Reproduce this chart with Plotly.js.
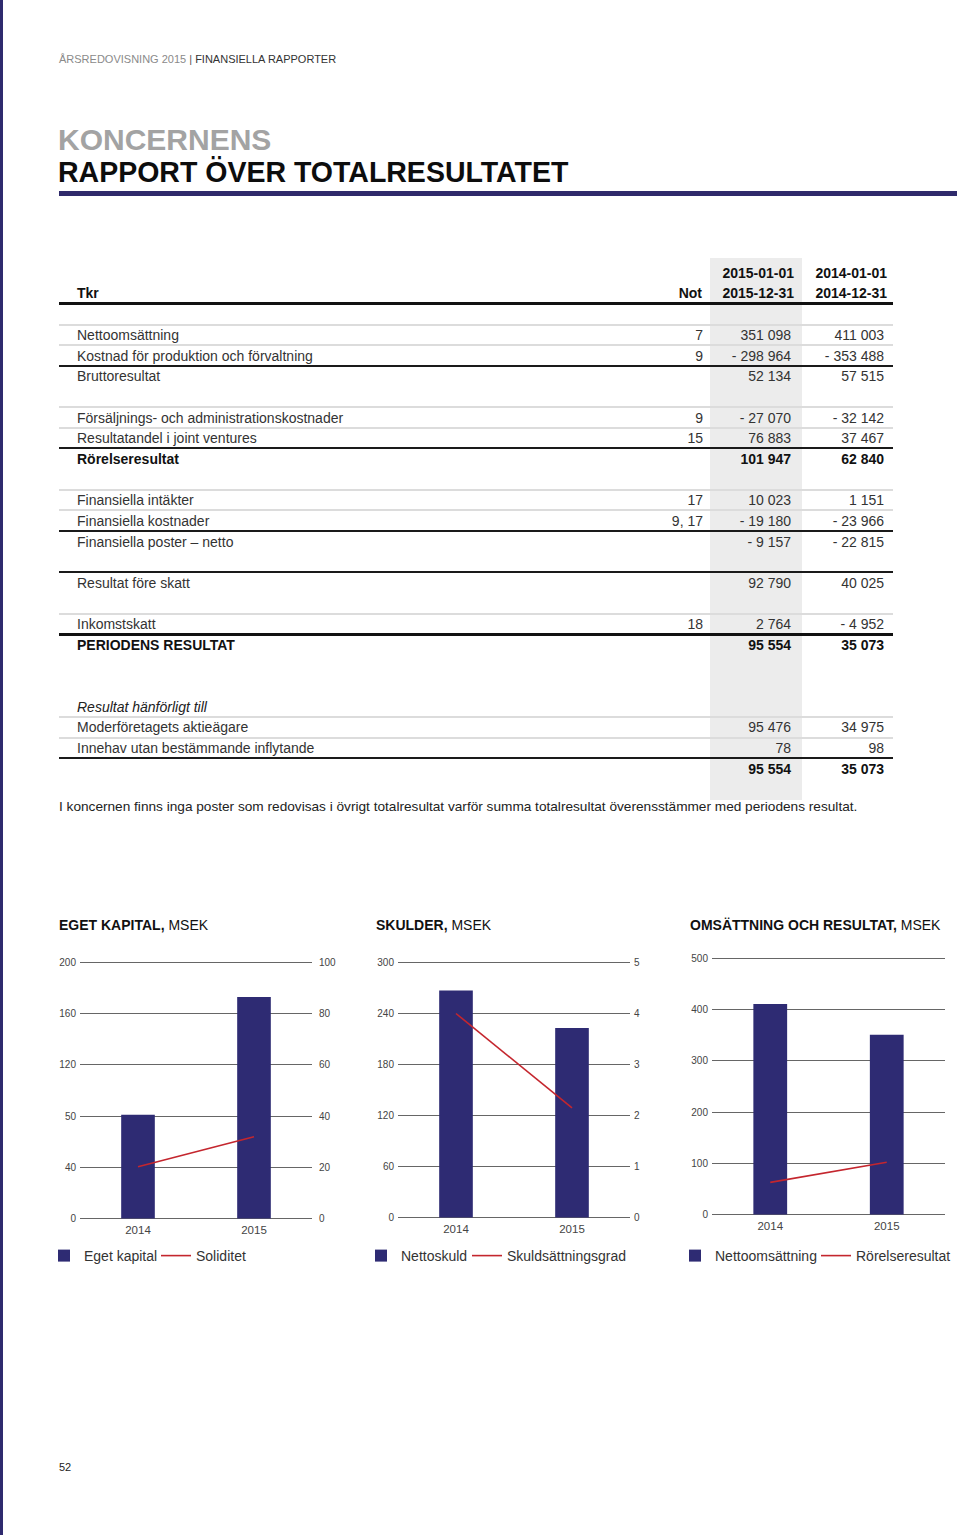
<!DOCTYPE html>
<html>
<head>
<meta charset="utf-8">
<script src="https://cdn.plot.ly/plotly-3.0.1.min.js"></script>
<style>
  html, body { margin:0; padding:0; background:#fff; }
  body { width:960px; height:1535px; position:relative; overflow:hidden;
         font-family:"Liberation Sans", Arial, Helvetica, sans-serif; color:#333; }
  .abs { position:absolute; white-space:nowrap; }
  .t { position:absolute; white-space:nowrap; line-height:20px; height:20px; font-size:14px; }
  .r { text-align:right; }
  .b { font-weight:bold; color:#111; }
  .hl { position:absolute; left:59px; width:834px; }
  .chart { position:absolute; }
</style>
</head>
<body>
<div class="abs" style="left:0;top:0;width:3px;height:1535px;background:#2e2a6e;"></div>
<div class="abs" style="left:59px;top:52px;font-size:11px;line-height:14px;">
  <span style="color:#8a8a8a">ÅRSREDOVISNING 2015</span> <span style="color:#555">|</span> <span style="color:#333">FINANSIELLA RAPPORTER</span>
</div>
<div class="abs" style="left:58px;top:122px;font-size:30px;line-height:36px;font-weight:bold;color:#a3a3a3;">KONCERNENS</div>
<div class="abs" style="left:58px;top:154px;font-size:30px;line-height:36px;font-weight:bold;color:#0d0d0d;transform:scaleX(0.95);transform-origin:0 50%;">RAPPORT ÖVER TOTALRESULTATET</div>
<div class="abs" style="left:59px;top:191px;width:898px;height:5px;background:#2f2a6b;"></div>

<div id="table"></div>

<div id="c1" class="chart"></div>
<div id="c2" class="chart"></div>
<div id="c3" class="chart"></div>

<div class="abs" style="left:59px;top:1460px;font-size:11px;line-height:14px;color:#222;">52</div>

<script>
// ---------------- DATA ----------------
const colHeadTop = ['2015-01-01', '2014-01-01'];
const colHeadBottom = ['2015-12-31', '2014-12-31'];
const rowLabels = [
  'Nettoomsättning',
  'Kostnad för produktion och förvaltning',
  'Bruttoresultat',
  'Försäljnings- och administrationskostnader',
  'Resultatandel i joint ventures',
  'Rörelseresultat',
  'Finansiella intäkter',
  'Finansiella kostnader',
  'Finansiella poster – netto',
  'Resultat före skatt',
  'Inkomstskatt',
  'PERIODENS RESULTAT',
  'Resultat hänförligt till',
  'Moderföretagets aktieägare',
  'Innehav utan bestämmande inflytande',
  ''
];
const rowNotes = ['7', '9', '', '9', '15', '', '17', '9, 17', '', '', '18', '', '', '', '', ''];
const values2015 = ['351 098', '- 298 964', '52 134', '- 27 070', '76 883', '101 947', '10 023', '- 19 180', '- 9 157', '92 790', '2 764', '95 554', '', '95 476', '78', '95 554'];
const values2014 = ['411 003', '- 353 488', '57 515', '- 32 142', '37 467', '62 840', '1 151', '- 23 966', '- 22 815', '40 025', '- 4 952', '35 073', '', '34 975', '98', '35 073'];
const footnote = 'I koncernen finns inga poster som redovisas i övrigt totalresultat varför summa totalresultat överensstämmer med periodens resultat.';

const years = ['2014', '2015'];
const egetKapital = [81, 173];
const soliditet = [20.2, 31.9];
const egetTicks = [0, 40, 80, 120, 160, 200];
const egetTickText = ['0', '40', '50', '120', '160', '200'];
const soliditetTicks = [0, 20, 40, 60, 80, 100];
const nettoskuld = [267, 223];
const skuldsattningsgrad = [4.0, 2.15];
const skuldTicks = [0, 60, 120, 180, 240, 300];
const gradTicks = [0, 1, 2, 3, 4, 5];
const nettoomsattning = [411.0, 351.1];
const rorelseresultat = [62.8, 101.9];
const omsTicks = [0, 100, 200, 300, 400, 500];

// ---------------- TABLE (layout) ----------------
const rowSlot = [0, 1, 2, 4, 5, 6, 8, 9, 10, 12, 14, 15, 18, 19, 20, 21];
const rowLine = ['g', 'g', 'k', 'g', 'g', 'k', 'g', 'g', 'k', 'k', 'g', 'K', '', 'g', 'g', 'k'];
const rowStyle = ['', '', '', '', '', 'b', '', '', '', '', '', 'b', 'i', '', '', 'b'];
const tbl = document.getElementById('table');
function add(html) { tbl.insertAdjacentHTML('beforeend', html); }
const y0 = 335, pitch = 20.65;
add('<div class="abs" style="left:710px;top:258px;width:92px;height:542px;background:#ececec;"></div>');
add(`<div class="t b r" style="left:690px;width:104px;top:${273 - 10}px">${colHeadTop[0]}</div>`);
add(`<div class="t b r" style="left:785px;width:102px;top:${273 - 10}px">${colHeadTop[1]}</div>`);
add(`<div class="t b r" style="left:690px;width:104px;top:${293 - 10}px">${colHeadBottom[0]}</div>`);
add(`<div class="t b r" style="left:785px;width:102px;top:${293 - 10}px">${colHeadBottom[1]}</div>`);
add(`<div class="t b" style="left:77px;top:${293 - 10}px">Tkr</div>`);
add(`<div class="t b r" style="left:640px;width:62px;top:${293 - 10}px">Not</div>`);
add('<div class="hl" style="top:302px;height:3px;background:#111;"></div>');
rowLabels.forEach((lab, i) => {
  const cy = y0 + rowSlot[i] * pitch;
  const ly = cy - 10.5;
  if (rowLine[i] === 'g') add(`<div class="hl" style="top:${ly - 1}px;height:2px;background:#dcdcdc;"></div>`);
  if (rowLine[i] === 'k') add(`<div class="hl" style="top:${ly - 1}px;height:2px;background:#1a1a1a;"></div>`);
  if (rowLine[i] === 'K') add(`<div class="hl" style="top:${ly - 1.5}px;height:3px;background:#111;"></div>`);
  const cls = rowStyle[i] === 'b' ? 't b' : 't';
  const st = rowStyle[i] === 'i' ? 'font-style:italic;color:#222;' : '';
  const top = cy - 10;
  if (lab) add(`<div class="${cls}" style="left:77px;top:${top}px;${st}">${lab}</div>`);
  if (rowNotes[i]) add(`<div class="t r" style="left:640px;width:63px;top:${top}px">${rowNotes[i]}</div>`);
  if (values2015[i]) add(`<div class="${cls} r" style="left:680px;width:111px;top:${top}px">${values2015[i]}</div>`);
  if (values2014[i]) add(`<div class="${cls} r" style="left:775px;width:109px;top:${top}px">${values2014[i]}</div>`);
});
add(`<div class="t" style="left:59px;top:${807 - 10}px;font-size:13.65px;color:#222;">${footnote}</div>`);

// ---------------- CHARTS ----------------
const NAVY = '#2e2b73', RED = '#c4262e', GRID = '#666666';
const FONT = '"Liberation Sans", Arial, Helvetica, sans-serif';
const DIVTOP = 905, DIVW = 330, DIVH = 375, EDGE = 1.5;

function chart(id, o) {
  // frame given in page pixels; plot area is widened by EDGE px so the end gridlines are drawn
  const el = document.getElementById(id);
  el.style.left = o.divLeft + 'px';
  el.style.top = DIVTOP + 'px';
  const W = DIVW, H = DIVH;
  const l = o.plotL - o.divLeft, pw = o.plotR - o.plotL;
  const t = o.plotT - EDGE - DIVTOP, ph = o.plotB - o.plotT + 2 * EDGE;
  const span = o.range[1] - o.range[0];
  const pad = span * EDGE / (o.plotB - o.plotT);
  const traces = [
    { type: 'bar', x: years, y: o.bars, name: o.barName, marker: { color: NAVY }, width: 0.29,
      hoverinfo: 'skip', legend: 'legend' },
    { type: 'scatter', mode: 'lines', x: years, y: o.line, name: o.lineName, yaxis: o.y2 ? 'y2' : 'y',
      line: { color: RED, width: 1.6 }, hoverinfo: 'skip', legend: 'legend2' }
  ];
  const legBase = { orientation: 'h', xref: 'container', yref: 'container',
    y: 1 - (1256 - DIVTOP) / H, xanchor: 'left', yanchor: 'middle',
    font: { family: FONT, size: 14, color: '#333' }, bgcolor: 'rgba(0,0,0,0)' };
  const layout = {
    width: W, height: H,
    margin: { l: l, r: W - l - pw, t: t, b: H - t - ph, pad: 0, autoexpand: false },
    paper_bgcolor: 'rgba(0,0,0,0)', plot_bgcolor: 'rgba(0,0,0,0)',
    font: { family: FONT, size: 10, color: '#444' },
    title: { text: o.title, font: { family: FONT, size: 14, color: '#111' },
      xref: 'container', x: (o.titleLeft - o.divLeft) / W, xanchor: 'left',
      yref: 'container', y: 1 - (925 - DIVTOP) / H, yanchor: 'middle' },
    xaxis: { type: 'category', showgrid: false, zeroline: false, showline: false, ticks: '', automargin: false,
      tickfont: { size: 11.5, color: '#444' }, range: [-0.5, 1.5], fixedrange: true, ticklabelstandoff: 1 },
    yaxis: { range: [o.range[0] - pad, o.range[1] + pad], tickvals: o.tickvals, ticktext: o.ticktext, showgrid: true,
      gridcolor: GRID, gridwidth: 1, zeroline: false, showline: false, ticks: '', fixedrange: true, automargin: false,
      tickfont: { size: 10, color: '#444' }, ticklabelstandoff: 3 },
    showlegend: true,
    legend: Object.assign({}, legBase, { x: (o.leg1 - o.divLeft) / W }),
    legend2: Object.assign({}, legBase, { x: (o.leg2 - o.divLeft) / W })
  };
  if (o.y2) {
    const pad2 = (o.y2range[1] - o.y2range[0]) * EDGE / (o.plotB - o.plotT);
    layout.yaxis2 = { overlaying: 'y', side: 'right', range: [o.y2range[0] - pad2, o.y2range[1] + pad2],
      tickvals: o.y2ticks, showgrid: false, automargin: false,
      zeroline: false, showline: false, ticks: '', fixedrange: true, tickfont: { size: 10, color: '#444' },
      ticklabelstandoff: o.y2standoff };
  }
  Plotly.newPlot(id, traces, layout, { displayModeBar: false, staticPlot: true });
}

chart('c1', {
  divLeft: 20, plotL: 80, plotR: 312, plotT: 962, plotB: 1219, titleLeft: 59,
  title: '<b>EGET KAPITAL,</b> MSEK',
  bars: egetKapital, barName: 'Eget kapital', line: soliditet, lineName: 'Soliditet',
  range: [0, 200], tickvals: egetTicks, ticktext: egetTickText,
  y2: true, y2range: [0, 100], y2ticks: soliditetTicks, y2standoff: 6,
  leg1: 44, leg2: 156
});
chart('c2', {
  divLeft: 340, plotL: 398, plotR: 630, plotT: 962, plotB: 1218, titleLeft: 376,
  title: '<b>SKULDER,</b> MSEK',
  bars: nettoskuld, barName: 'Nettoskuld', line: skuldsattningsgrad, lineName: 'Skuldsättningsgrad',
  range: [0, 300], tickvals: skuldTicks, ticktext: skuldTicks.map(String),
  y2: true, y2range: [0, 5], y2ticks: gradTicks, y2standoff: 3,
  leg1: 361, leg2: 467
});
chart('c3', {
  divLeft: 650, plotL: 712, plotR: 945, plotT: 958, plotB: 1215, titleLeft: 690,
  title: '<b>OMSÄTTNING OCH RESULTAT,</b> MSEK',
  bars: nettoomsattning, barName: 'Nettoomsättning', line: rorelseresultat, lineName: 'Rörelseresultat',
  range: [0, 500], tickvals: omsTicks, ticktext: omsTicks.map(String),
  y2: false,
  leg1: 675, leg2: 816
});
</script>
</body>
</html>
